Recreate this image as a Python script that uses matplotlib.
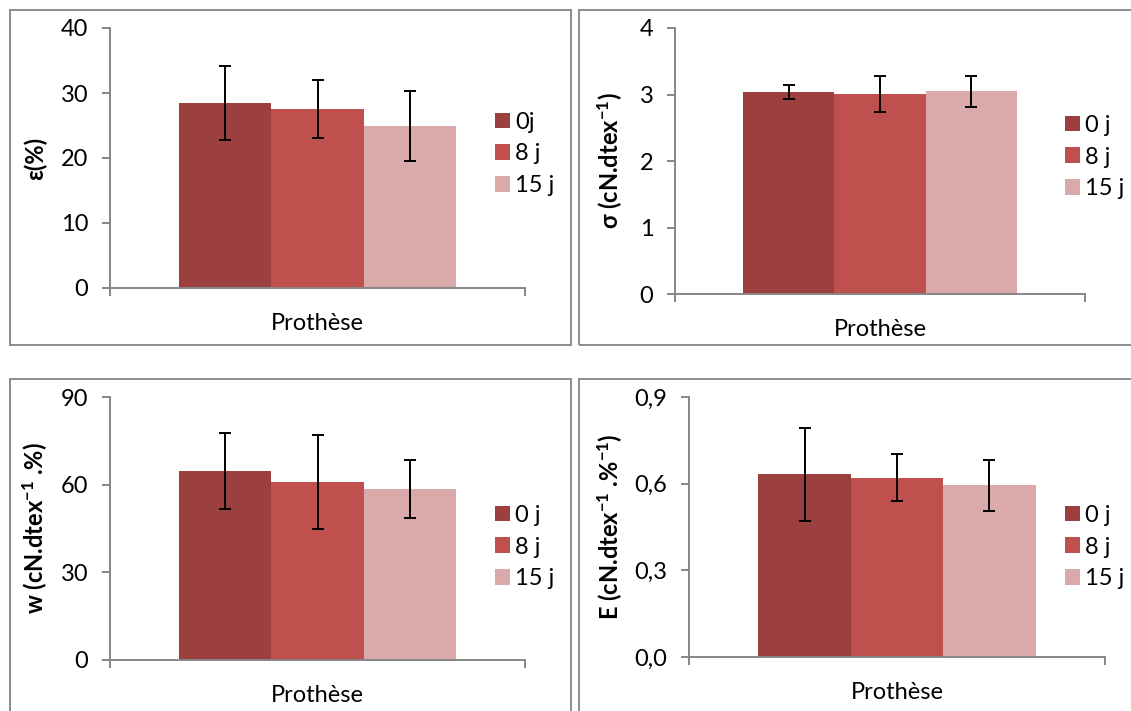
import matplotlib
matplotlib.use("Agg")
import matplotlib.pyplot as plt
from matplotlib.patches import Rectangle
from matplotlib.ticker import FixedLocator, FuncFormatter

plt.rcParams['font.family'] = ['Lato', 'DejaVu Sans']
plt.rcParams['mathtext.fontset'] = 'custom'
plt.rcParams['mathtext.rm'] = 'Lato'
plt.rcParams['mathtext.bf'] = 'Lato:bold'
plt.rcParams['mathtext.it'] = 'Lato:italic'

# === données ===
category = ["Prothèse"]
series_a = ["0j", "8 j", "15 j"]
series_b = ["0 j", "8 j", "15 j"]

eps_vals = [28.45, 27.5, 24.9]
eps_err = [5.75, 4.45, 5.4]

sigma_vals = [3.035, 3.005, 3.05]
sigma_err = [0.11, 0.27, 0.235]

w_vals = [64.7, 60.9, 58.5]
w_err = [12.9, 16.0, 10.0]

e_vals = [0.632, 0.620, 0.594]
e_err = [0.16, 0.081, 0.089]

y_ticks_eps = [0, 10, 20, 30, 40]
y_ticks_sigma = [0, 1, 2, 3, 4]
y_ticks_w = [0, 30, 60, 90]
y_ticks_e = [0.0, 0.3, 0.6, 0.9]

# === couleurs ===
COLORS = ["#9C403F", "#C0504D", "#DAAAAA"]
AXIS_GREY = "#868686"
BORDER_GREY = "#8C8C8C"

FS = 17

W, H = 1131, 711
fig = plt.figure(figsize=(W / 100, H / 100), dpi=100)
fig.patch.set_facecolor("white")


def px_box(left, top, right, bottom):
    return [left / W, 1 - bottom / H, (right - left) / W, (bottom - top) / H]


def border(left, top, right, bottom):
    fig.patches.append(Rectangle((left / W, 1 - bottom / H), (right - left) / W,
                                 (bottom - top) / H, transform=fig.transFigure,
                                 fill=False, edgecolor=BORDER_GREY, linewidth=1.4))


panels = [
    # (axes px, bordure px, valeurs, erreurs, ticks, format, label y, légende, pos légende px, x label y px)
    ((110, 28, 525, 288), (10, 10, 571, 345), eps_vals, eps_err, y_ticks_eps,
     lambda v, p: f"{v:.0f}", "ε(%)", series_a, (495, 154), 35),
    ((675, 28, 1085, 294), (579, 10, 1140, 345), sigma_vals, sigma_err, y_ticks_sigma,
     lambda v, p: f"{v:.0f}", r"σ (cN.dtex$^{\mathbf{-1}}$)", series_b, (1065, 157), 610),
    ((110, 397, 525, 660), (10, 379, 571, 720), w_vals, w_err, y_ticks_w,
     lambda v, p: f"{v:.0f}", r"w (cN.dtex$^{\mathbf{-1}}$ .%)", series_b, (495, 547), 35),
    ((689, 397, 1105, 657), (579, 379, 1140, 720), e_vals, e_err, y_ticks_e,
     lambda v, p: f"{v:.1f}".replace(".", ","), r"E (cN.dtex$^{\mathbf{-1}}$ .%$^{\mathbf{-1}}$)",
     series_b, (1065, 547), 610),
]

bar_w = 1 / 4.5
offsets = [-bar_w, 0, bar_w]

for box, brd, vals, errs, ticks, fmt, ylabel, labels, leg_pos, ylab_x in panels:
    border(*brd)
    ax = fig.add_axes(px_box(*box))
    handles = []
    for i in range(3):
        b = ax.bar(0 + offsets[i], vals[i], width=bar_w, color=COLORS[i],
                   yerr=errs[i], capsize=4,
                   error_kw=dict(ecolor="black", elinewidth=1.4, capthick=1.4),
                   label=labels[i], zorder=2)
        handles.append(b)
    ax.set_xlim(-0.5, 0.5)
    ax.set_ylim(ticks[0], ticks[-1])
    ax.yaxis.set_major_locator(FixedLocator(ticks))
    ax.yaxis.set_major_formatter(FuncFormatter(fmt))
    ax.set_xticks([0])
    ax.set_xticklabels(category)
    ax.xaxis.set_minor_locator(FixedLocator([-0.5, 0.5]))
    for s in ["top", "right"]:
        ax.spines[s].set_visible(False)
    for s in ["left", "bottom"]:
        ax.spines[s].set_color(AXIS_GREY)
        ax.spines[s].set_linewidth(1.4)
    ax.tick_params(axis="y", length=5.5, width=1.4, color=AXIS_GREY,
                   labelsize=FS, pad=10, labelcolor="black")
    ax.tick_params(axis="x", which="major", length=0, labelsize=FS, pad=18)
    ax.tick_params(axis="x", which="minor", length=5.5, width=1.4, color=AXIS_GREY)
    ax.set_facecolor("none")

    # label y
    cy = (box[1] + box[3]) / 2
    fig.text(ylab_x / W, 1 - cy / H, ylabel, rotation=90, fontsize=17,
             fontweight="bold", ha="center", va="center")

    # légende
    leg = ax.legend(handles=handles, loc="center left",
                    bbox_to_anchor=(leg_pos[0] / W, 1 - leg_pos[1] / H),
                    bbox_transform=fig.transFigure, frameon=False,
                    fontsize=FS, handlelength=0.64, handleheight=0.64,
                    handletextpad=0.22, labelspacing=0.45, borderpad=0,
                    borderaxespad=0)
    for h in leg.legend_handles:
        h.set_linewidth(0)

fig.savefig("out.png", dpi=100, facecolor="white")
